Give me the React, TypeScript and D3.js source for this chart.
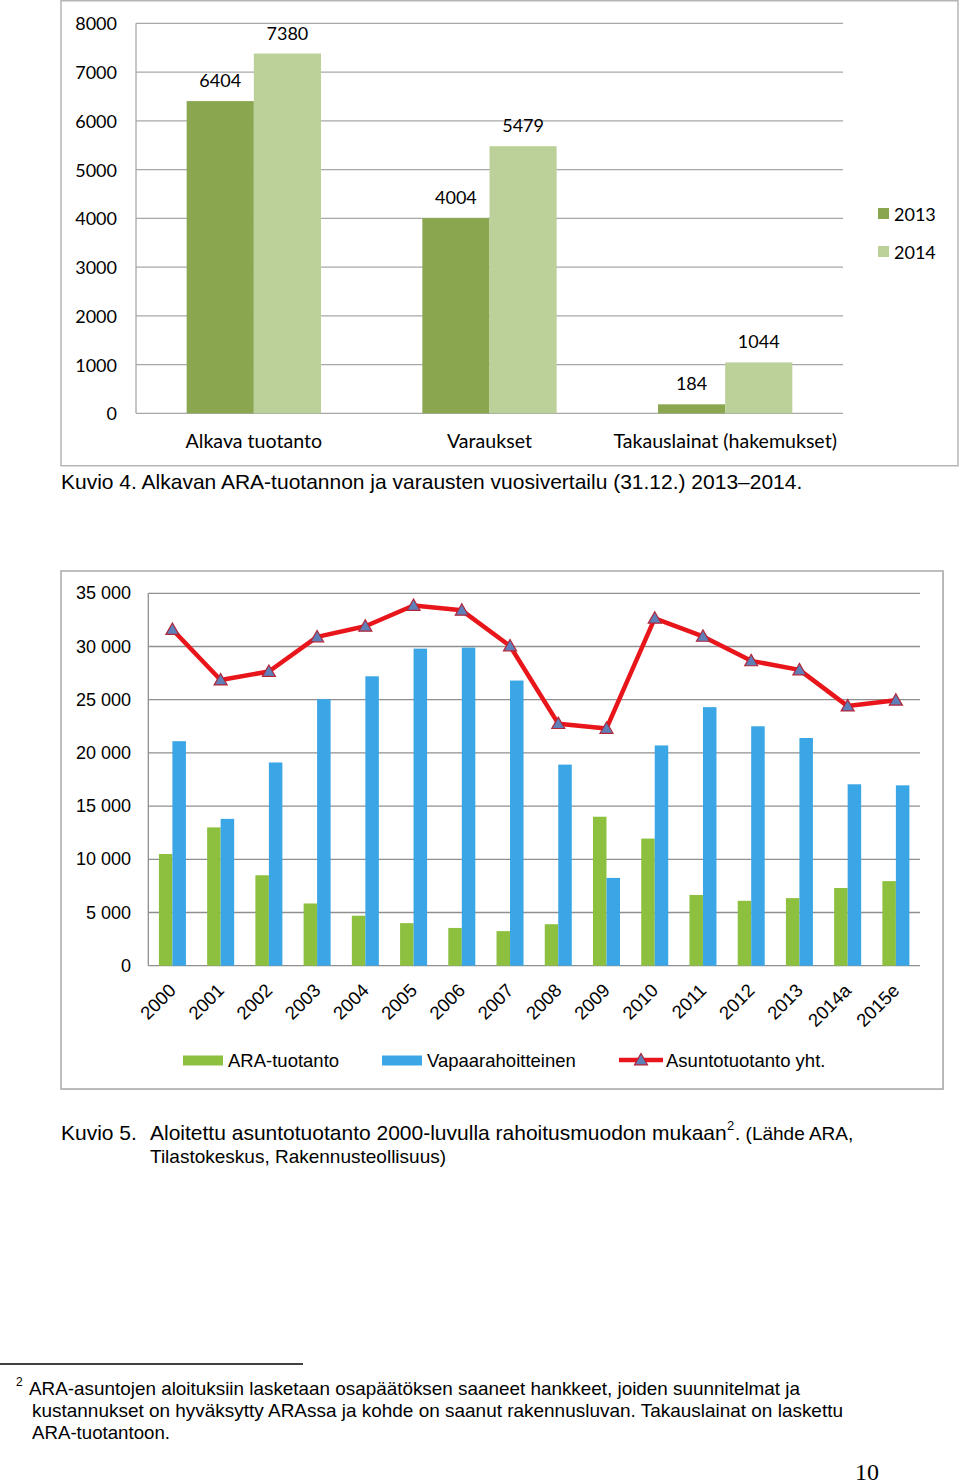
import React from "react";
import * as d3 from "d3";

// ---------- Chart 1 data ----------
const topCategories = ["Alkava tuotanto", "Varaukset", "Takauslainat (hakemukset)"];
const topSeriesNames = ["2013", "2014"];
const values2013 = [6404, 4004, 184];
const values2014 = [7380, 5479, 1044];
const topTicks = [0, 1000, 2000, 3000, 4000, 5000, 6000, 7000, 8000];

// ---------- Chart 2 data ----------
const years = ["2000", "2001", "2002", "2003", "2004", "2005", "2006", "2007", "2008", "2009", "2010", "2011", "2012", "2013", "2014a", "2015e"];
const araTuotanto = [10500, 13000, 8500, 5850, 4700, 4000, 3550, 3250, 3900, 14000, 11950, 6650, 6100, 6350, 7300, 7950];
const vapaarahoitteinen = [21100, 13800, 19100, 25050, 27200, 29800, 29900, 26800, 18900, 8250, 20700, 24300, 22500, 21400, 17050, 16950];
const asuntotuotantoYht = [31600, 26850, 27650, 30900, 31900, 33850, 33400, 30050, 22750, 22300, 32650, 30950, 28650, 27800, 24400, 24950];
const bottomTicks = [0, 5000, 10000, 15000, 20000, 25000, 30000, 35000];
const bottomSeriesNames = ["ARA-tuotanto", "Vapaarahoitteinen", "Asuntotuotanto yht."];

const ARIAL = "'Liberation Sans', Arial, sans-serif";
const CALIBRI = "Lato, 'Open Sans', sans-serif";

const fmt = d3.formatLocale({ decimal: ",", thousands: " ", grouping: [3], currency: ["", "€"] }).format(",d");

function TopChart() {
  const left = 136, right = 843, top = 23.3, bottom = 413.3;
  const y = d3.scaleLinear().domain([0, 8000]).range([bottom, top]);
  const x = d3.scaleBand<string>().domain(topCategories).range([left, right]);
  const bw = x.bandwidth();
  const x1 = d3.scaleBand<string>().domain(topSeriesNames).range([bw * 0.215, bw * 0.785]);
  const colors = ["#8aa64f", "#bcd19a"];
  const series = [values2013, values2014];
  const grid = "#a8a8a8";
  return (
    <g>
      <rect x={61} y={0.75} width={897} height={465} fill="#fff" stroke="#b5b5b5" strokeWidth={1.5} />
      {topTicks.map((t) => (
        <g key={t}>
          <line x1={left} x2={right} y1={y(t)} y2={y(t)} stroke={grid} strokeWidth={1.3} />
          <text x={117} y={y(t)} textAnchor="end" dominantBaseline="central" fontFamily={CALIBRI} fontSize={18} fill="#000">{t}</text>
        </g>
      ))}
      <line x1={left} x2={left} y1={top} y2={bottom} stroke={grid} strokeWidth={1.3} />
      {series.map((vals, si) =>
        vals.map((v, ci) => {
          const bx = (x(topCategories[ci]) as number) + (x1(topSeriesNames[si]) as number);
          const w = x1.bandwidth();
          return (
            <g key={`${si}-${ci}`}>
              <rect x={bx} y={y(v)} width={w} height={bottom - y(v)} fill={colors[si]} />
              <text x={bx + w / 2} y={y(v) - 21} textAnchor="middle" dominantBaseline="central" fontFamily={CALIBRI} fontSize={18} fill="#000">{v}</text>
            </g>
          );
        })
      )}
      {topCategories.map((c) => (
        <text key={c} x={(x(c) as number) + bw / 2} y={440} textAnchor="middle" dominantBaseline="central" fontFamily={CALIBRI} fontSize={19.6} fill="#000">{c}</text>
      ))}
      {topSeriesNames.map((n, i) => (
        <g key={n}>
          <rect x={878} y={208 + i * 38} width={11} height={11} fill={colors[i]} />
          <text x={894} y={213.5 + i * 38} dominantBaseline="central" fontFamily={CALIBRI} fontSize={18} fill="#000">{n}</text>
        </g>
      ))}
    </g>
  );
}

function Triangle({ cx, cy }: { cx: number; cy: number }) {
  const s = 6.5;
  const p = `M${cx},${cy - s} L${cx + s},${cy + s * 0.75} L${cx - s},${cy + s * 0.75} Z`;
  return <path d={p} fill="#5f7fb8" stroke="#b3263a" strokeWidth={1.2} />;
}

function BottomChart() {
  const left = 148.3, right = 920, top = 593.3, bottom = 965.7;
  const y = d3.scaleLinear().domain([0, 35000]).range([bottom, top]);
  const x = d3.scaleBand<string>().domain(years).range([left, right]);
  const bw = x.bandwidth();
  const x1 = d3.scaleBand<string>().domain(bottomSeriesNames.slice(0, 2)).range([bw * 0.22, bw * 0.78]);
  const green = "#8dc03f", blue = "#3aa6e6", red = "#e8161b";
  const grid = "#8f8f8f";
  const cx = (i: number) => (x(years[i]) as number) + bw / 2;
  const line = d3.line<number>().x((_, i) => cx(i)).y((d) => y(d));
  return (
    <g>
      <rect x={62} y={572} width={882} height={518} fill="#d8d8d8" />
      <rect x={61} y={571} width={882} height={518} fill="#fff" stroke="#a9a9a9" strokeWidth={1.5} />
      {bottomTicks.map((t) => (
        <g key={t}>
          <line x1={left} x2={right} y1={y(t)} y2={y(t)} stroke={grid} strokeWidth={1.3} />
          <text x={131} y={y(t)} textAnchor="end" dominantBaseline="central" fontFamily={ARIAL} fontSize={18} fill="#000">{fmt(t)}</text>
        </g>
      ))}
      <line x1={left} x2={left} y1={top} y2={bottom} stroke={grid} strokeWidth={1.3} />
      {years.map((yr, i) => {
        const bx = x(yr) as number;
        const w = x1.bandwidth();
        return (
          <g key={yr}>
            <rect x={bx + (x1(bottomSeriesNames[0]) as number)} y={y(araTuotanto[i])} width={w} height={bottom - y(araTuotanto[i])} fill={green} />
            <rect x={bx + (x1(bottomSeriesNames[1]) as number)} y={y(vapaarahoitteinen[i])} width={w} height={bottom - y(vapaarahoitteinen[i])} fill={blue} />
            <text transform={`translate(${cx(i)},${987}) rotate(-45)`} textAnchor="end" dominantBaseline="central" fontFamily={ARIAL} fontSize={18.5} fill="#000">{yr}</text>
          </g>
        );
      })}
      <path d={line(asuntotuotantoYht) as string} fill="none" stroke={red} strokeWidth={4.5} strokeLinejoin="round" />
      {asuntotuotantoYht.map((v, i) => (
        <Triangle key={i} cx={cx(i)} cy={y(v)} />
      ))}
      {/* legend */}
      <rect x={183} y={1055.5} width={40} height={10} fill={green} />
      <text x={228} y={1060.5} dominantBaseline="central" fontFamily={ARIAL} fontSize={18.5} fill="#000">{bottomSeriesNames[0]}</text>
      <rect x={382} y={1055.5} width={40} height={10} fill={blue} />
      <text x={427} y={1060.5} dominantBaseline="central" fontFamily={ARIAL} fontSize={18.5} fill="#000">{bottomSeriesNames[1]}</text>
      <line x1={619} x2={663} y1={1060} y2={1060} stroke={red} strokeWidth={4.5} />
      <Triangle cx={641} cy={1060} />
      <text x={666} y={1060.5} dominantBaseline="central" fontFamily={ARIAL} fontSize={18.5} fill="#000">{bottomSeriesNames[2]}</text>
    </g>
  );
}

export default function App() {
  return (
    <svg width={960} height={1484} style={{ position: "absolute", left: 0, top: 0, background: "#fff" }}>
      <rect x={0} y={0} width={960} height={1484} fill="#fff" />
      <TopChart />
      <text x={61} y={489} fontFamily={ARIAL} fontSize={21} fill="#000">Kuvio 4. Alkavan ARA-tuotannon ja varausten vuosivertailu (31.12.) 2013–2014.</text>
      <BottomChart />
      <text x={61} y={1140} fontFamily={ARIAL} fontSize={21} fill="#000">Kuvio 5.</text>
      <text x={150} y={1140} fontFamily={ARIAL} fontSize={21} fill="#000">Aloitettu asuntotuotanto 2000-luvulla rahoitusmuodon mukaan</text>
      <text x={727} y={1130} fontFamily={ARIAL} fontSize={13} fill="#000">2</text>
      <text x={735} y={1140} fontFamily={ARIAL} fontSize={19} fill="#000">. (Lähde ARA,</text>
      <text x={150} y={1163} fontFamily={ARIAL} fontSize={19} fill="#000">Tilastokeskus, Rakennusteollisuus)</text>
      <line x1={0} x2={303} y1={1364} y2={1364} stroke="#000" strokeWidth={1.3} />
      <text x={16} y={1386} fontFamily={ARIAL} fontSize={12} fill="#000">2</text>
      <text x={29} y={1394.5} fontFamily={ARIAL} fontSize={18.5} fill="#000" textLength={771} lengthAdjust="spacingAndGlyphs">ARA-asuntojen aloituksiin lasketaan osapäätöksen saaneet hankkeet, joiden suunnitelmat ja</text>
      <text x={32} y={1416.5} fontFamily={ARIAL} fontSize={18.5} fill="#000" textLength={811} lengthAdjust="spacingAndGlyphs">kustannukset on hyväksytty ARAssa ja kohde on saanut rakennusluvan. Takauslainat on laskettu</text>
      <text x={32} y={1438.5} fontFamily={ARIAL} fontSize={18.5} fill="#000" textLength={138} lengthAdjust="spacingAndGlyphs">ARA-tuotantoon.</text>
      <text x={855} y={1480} fontFamily="'Liberation Serif', 'Times New Roman', serif" fontSize={24} fill="#000">10</text>
    </svg>
  );
}
